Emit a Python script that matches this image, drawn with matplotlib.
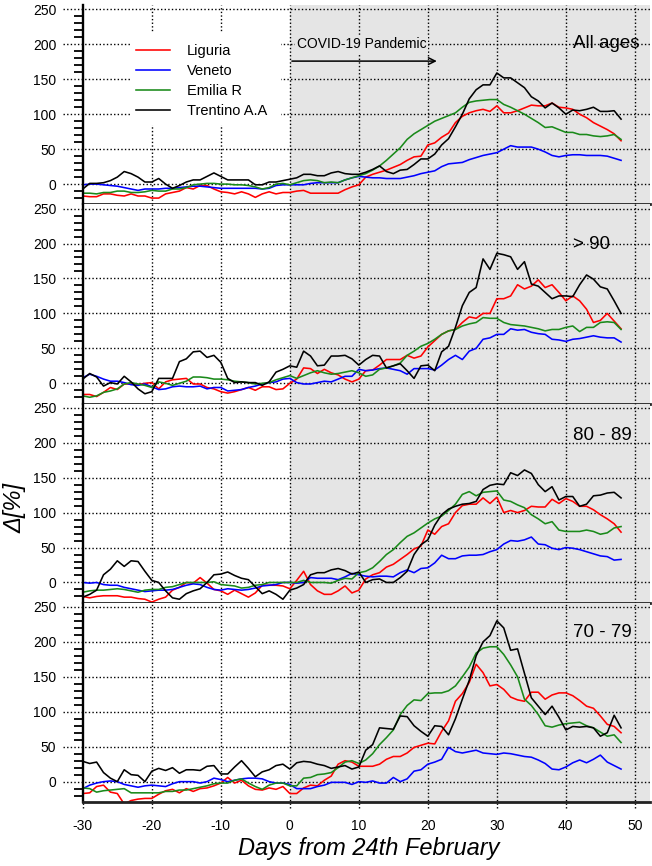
import matplotlib
matplotlib.use('Agg')
import matplotlib.pyplot as plt
from matplotlib.patches import Rectangle
import numpy as np

plt.rcParams['font.family'] = ['Liberation Sans', 'DejaVu Sans']
plt.rcParams['axes.unicode_minus'] = False

days = np.arange(-30, 49)
regions = ['Liguria', 'Veneto', 'Emilia R', 'Trentino A.A']
colors = ['#ff0000', '#0000ff', '#1a8a1a', '#000000']
panel_titles = ['All ages', '> 90', '80 - 89', '70 - 79']
xticks = [-30, -20, -10, 0, 10, 20, 30, 40, 50]
yticks = [0, 50, 100, 150, 200, 250]

# ---- All ages ----
liguria_all = [-17,-18,-18,-14,-14,-16,-17,-14,-17,-17,-20,-20,-14,-12,-10,-5,-7,-2,-2,-7,-11,-12,-14,-11,-14,-19,-14,-11,-14,-12,-12,-10,-9,-13,-13,-13,
               -13,-13,-8,-4,-1,10,14,17,20,24,28,34,39,40,56,59,67,73,88,97,102,105,107,104,112,102,102,105,109,113,112,112,116,110,109,107,100,95,88,83,78,72,62]
veneto_all = [-1,0,0,-1,-2,-3,-5,-7,-9,-7,-7,-7,-6,-6,-5,-4,-3,-3,-4,-5,-6,-6,-6,-6,-6,-6,-7,-6,-2,-1,-1,-1,-1,1,2,2,
              2,2,6,9,11,10,9,9,8,8,8,10,12,15,17,19,25,29,30,31,35,38,41,43,45,50,55,53,53,53,50,46,41,39,41,42,42,41,41,41,40,37,34]
emilia_all = [-13,-13,-14,-12,-12,-10,-10,-12,-12,-11,-9,-10,-10,-7,-7,-5,-1,0,1,1,0,0,-1,-1,-2,-4,-7,-5,0,1,-1,2,5,6,5,2,
              3,2,6,9,12,15,20,26,34,43,52,64,72,78,84,90,94,98,102,110,117,119,120,121,121,114,110,105,100,94,88,81,82,78,74,74,71,71,69,68,69,71,64]
trentino_all = [-7,1,1,2,5,10,18,15,10,3,3,8,0,-6,-2,3,6,6,11,16,11,6,6,6,6,-1,-1,3,3,5,7,9,14,14,12,12,
                16,18,15,14,14,17,21,26,18,15,20,21,28,36,36,43,56,65,82,100,122,135,142,142,159,152,152,145,138,125,119,109,116,109,100,106,105,107,110,104,104,105,93]

# ---- > 90 ----
liguria_90 = [-16,-16,-19,-13,-6,-9,-1,-1,-2,0,1,-8,2,5,6,7,-1,-1,-6,-8,-12,-14,-12,-9,-6,-10,-5,-5,-9,-8,0,6,22,21,14,20,
              15,12,6,2,6,18,19,26,34,34,34,40,36,39,52,61,70,75,77,87,95,93,100,100,121,121,125,141,135,139,148,137,141,130,118,125,118,106,87,90,100,89,78]
veneto_90 = [8,13,10,6,3,3,1,-2,-3,-1,-5,-9,-8,-5,-4,-5,-5,-4,-8,-6,-6,-11,-10,-9,-6,-4,-1,1,2,6,7,1,-1,-1,1,3,
             2,6,10,10,20,18,19,21,22,20,18,13,21,21,21,19,26,34,40,34,46,50,63,65,70,70,78,76,77,73,71,70,63,62,60,63,64,66,68,66,65,65,59]
emilia_90 = [-18,-20,-18,-13,-11,-8,-1,1,-1,-3,-6,2,0,-3,0,3,9,9,8,6,6,5,3,2,1,-1,0,1,5,8,11,7,11,15,18,15,
             13,14,16,18,15,10,12,20,22,25,29,40,46,53,57,63,70,75,77,82,85,87,94,93,93,87,84,83,82,80,78,75,77,77,80,82,74,80,80,87,88,87,77]
trentino_90 = [6,14,9,-4,1,-1,10,2,-8,-15,-12,7,7,7,31,35,45,46,37,40,30,7,1,2,1,1,-3,2,16,20,25,23,46,39,25,26,
               39,39,40,35,26,34,40,39,22,25,28,18,7,25,26,18,45,53,80,111,130,137,178,163,186,184,181,163,174,142,139,130,121,125,125,124,141,155,149,138,135,118,100]

# ---- 80 - 89 ----
liguria_80 = [-20,-22,-20,-19,-19,-19,-21,-21,-23,-24,-28,-24,-21,-11,-7,0,-1,7,-1,-10,-12,-17,-11,-16,-21,-15,-4,-4,-4,-5,-9,3,16,-3,-12,-17,
              -17,-12,-5,-15,-11,5,11,14,22,26,33,40,48,52,75,69,80,84,100,110,112,112,121,113,122,100,103,100,103,109,108,108,119,113,120,116,109,109,104,97,91,84,72]
veneto_80 = [0,-1,0,-3,-4,-4,-7,-9,-11,-13,-12,-11,-11,-10,-7,-4,-2,-3,-7,-10,-11,-9,-10,-11,-10,-8,-5,-4,-3,0,0,-1,0,7,6,6,
             6,4,8,13,11,9,8,9,9,8,14,18,14,20,21,28,39,34,34,38,39,39,40,44,47,55,60,59,61,65,55,54,49,47,50,49,47,44,41,38,37,32,33]
emilia_80 = [-14,-12,-11,-11,-10,-9,-10,-12,-14,-11,-10,-10,-7,-6,-3,0,0,0,0,1,-3,-4,-5,-8,-7,-4,-3,0,0,0,0,0,3,0,0,0,
             -1,3,6,5,14,16,21,30,40,47,57,66,71,78,85,91,95,103,112,126,130,124,129,130,131,118,116,111,107,97,91,84,87,75,73,73,73,75,73,69,71,78,80]
trentino_80 = [-21,-17,-11,11,19,31,23,31,30,16,3,0,-12,-22,-24,-16,-12,-9,0,11,12,15,10,6,4,-6,-16,-12,-17,-24,-11,-8,-3,11,14,14,
               18,20,17,12,15,0,4,5,0,0,7,16,40,54,61,82,97,105,109,112,113,116,133,139,141,140,157,153,161,156,140,130,137,118,123,123,109,112,124,125,128,129,121]

# ---- 70 - 79 ----
liguria_70 = [-17,-16,-7,-5,-15,-17,-32,-27,-25,-24,-24,-18,-13,-11,-16,-10,-14,-10,-9,-6,-2,6,-2,2,-6,-11,-12,-9,-11,-7,-17,-17,-9,-5,-6,2,
              8,25,30,28,22,22,22,25,32,36,36,41,49,52,55,54,72,87,115,126,142,168,156,137,139,132,121,117,115,128,128,118,124,127,127,123,116,108,105,94,82,79,70]
veneto_70 = [-10,-5,-2,0,1,0,-4,-6,-8,-6,-5,-6,-7,-3,0,0,0,-2,0,5,3,0,2,4,5,5,4,0,-2,-2,-4,-10,-10,-10,-7,-5,
             -1,-1,-1,-4,0,-1,1,-2,-2,6,0,4,15,17,25,28,32,49,43,41,43,45,41,40,39,41,40,38,36,35,31,26,18,17,21,27,31,27,32,38,28,23,18]
emilia_70 = [-9,-10,-15,-13,-12,-11,-10,-16,-16,-16,-16,-16,-14,-14,-12,-12,-10,-8,-6,-3,-2,-2,2,4,-2,-7,-11,-5,-2,-2,-6,-6,5,6,10,11,
             13,20,28,30,26,31,40,53,63,74,96,109,117,116,126,127,127,130,137,150,164,184,191,193,193,182,167,150,118,109,96,80,78,81,83,84,85,80,77,71,65,67,56]
trentino_70 = [29,26,28,13,5,0,17,10,9,0,15,19,16,20,12,17,17,16,22,23,11,11,21,30,19,7,14,17,23,25,18,27,29,28,25,23,
               19,21,23,18,21,45,53,77,76,75,94,93,80,72,65,80,79,67,90,118,145,180,200,209,230,220,188,190,155,120,108,96,108,92,74,79,78,79,77,65,70,95,77]

panels = [
    [liguria_all, veneto_all, emilia_all, trentino_all],
    [liguria_90, veneto_90, emilia_90, trentino_90],
    [liguria_80, veneto_80, emilia_80, trentino_80],
    [liguria_70, veneto_70, emilia_70, trentino_70],
]
title_y = [201, 199, 211, 213]

dot = (0, (1, 1.6))

fig, axes = plt.subplots(4, 1, figsize=(6.52, 8.66), dpi=100, sharex=True)
fig.subplots_adjust(left=0.127, right=0.997, bottom=0.074, top=0.994, hspace=0)

for i, ax in enumerate(axes):
    ax.set_xlim(-30, 52.2)
    ax.set_ylim(-29, 256)
    ax.axvspan(0, 60, color='#e5e5e5', lw=0, zorder=0)
    for y in yticks:
        ax.plot([-0.035, 1], [y, y], transform=ax.get_yaxis_transform(), color='k',
                lw=1.0, ls=dot, clip_on=False, zorder=0.6)
    for x in xticks[1:]:
        y0 = -0.03 if i == 3 else 0
        ax.plot([x, x], [y0, 1], transform=ax.get_xaxis_transform(), color='k',
                lw=1.0, ls=dot, clip_on=False, zorder=0.6)
    if i == 3:
        ax.plot([-30, -30], [-0.03, 0], transform=ax.get_xaxis_transform(), color='k',
                lw=1.0, ls=dot, clip_on=False, zorder=0.6)
    for vals, name, c in zip(panels[i], regions, colors):
        ax.plot(days, vals, color=c, lw=1.15, label=name, zorder=2)
    ax.set_yticks(yticks)
    ax.set_yticks([v for v in range(-20, 251, 10) if v % 50 != 0], minor=True)
    ax.tick_params(axis='y', which='major', length=0, pad=19, labelsize=10)
    ax.tick_params(axis='y', which='minor', length=6.2, width=1.3, direction='out')
    ax.set_xticks(xticks)
    ax.tick_params(axis='x', which='both', length=0, pad=12, labelsize=10)
    ax.spines['right'].set_visible(False)
    ax.spines['top'].set_visible(False)
    ax.spines['left'].set_linewidth(1.7)
    ax.spines['bottom'].set_linewidth(2.0)
    ax.spines['bottom'].set_color('#222222')
    ax.text(41, title_y[i], panel_titles[i], fontsize=13.5, ha='left', va='center', zorder=3)

ax0 = axes[0]
ax0.add_patch(Rectangle((0.0868, 0.397), 0.262, 0.462, transform=ax0.transAxes,
                        facecolor='white', edgecolor='none', zorder=1))
ax0.legend(loc='upper left', bbox_to_anchor=(0.094, 0.805), frameon=False, fontsize=10.5,
           handlelength=2.3, handletextpad=1.2, labelspacing=0.41, borderpad=0, borderaxespad=0)
ax0.annotate('', xy=(21.3, 176), xytext=(0.3, 176),
             arrowprops=dict(arrowstyle='->', color='k', lw=1.1, shrinkA=0, shrinkB=0, mutation_scale=12))
ax0.text(1, 201, 'COVID-19 Pandemic', fontsize=10, ha='left', va='center',
         bbox=dict(facecolor='#e5e5e5', edgecolor='none', pad=1.5))

fig.text(0.566, 1 - 848 / 866, 'Days from 24th February', fontsize=17, style='italic',
         ha='center', va='center')
fig.text(15 / 652, 1 - 508 / 866, 'Δ[%]', fontsize=17, style='italic', rotation=90,
         ha='center', va='center')

fig.savefig('out.png', dpi=100)
